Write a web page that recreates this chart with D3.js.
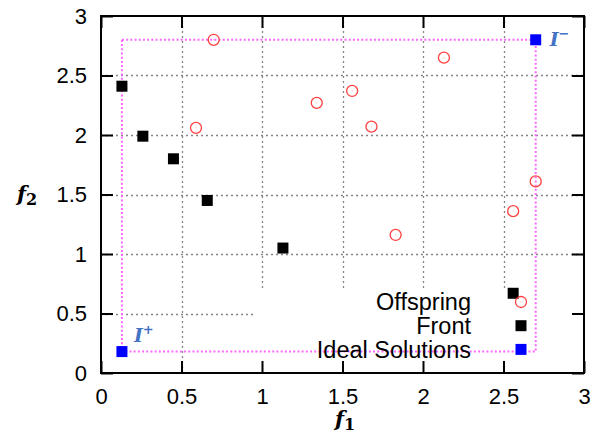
<!DOCTYPE html>
<html>
<head>
<meta charset="utf-8">
<script src="https://cdn.jsdelivr.net/npm/d3@7/dist/d3.min.js"></script>
<style>
  html, body { margin: 0; padding: 0; background: #fff; }
  svg { display: block; }
  .tick text { font-family: "Liberation Sans", Arial, sans-serif; font-size: 22px; fill: #000; }
</style>
</head>
<body>
<svg id="chart" width="594" height="436"></svg>
<script>
// Objective-space snapshot: offspring, current front and the two ideal points
const offspringF1 = [0.70, 0.59, 1.34, 1.56, 1.68, 2.13, 1.83, 2.70, 2.56];
const offspringF2 = [2.80, 2.06, 2.27, 2.37, 2.07, 2.65, 1.16, 1.61, 1.36];
const frontF1 = [0.13, 0.26, 0.45, 0.66, 1.13, 2.56];
const frontF2 = [2.41, 1.99, 1.80, 1.45, 1.05, 0.67];
const idealNames = ["I+", "I−"];
const idealF1 = [0.13, 2.70];
const idealF2 = [0.18, 2.80];
const tickValues = [0, 0.5, 1, 1.5, 2, 2.5, 3];
const tickLabels = ["0", "0.5", "1", "1.5", "2", "2.5", "3"];
const legendLabels = ["Offspring", "Front", "Ideal Solutions"];

const svg = d3.select("#chart");
const pLeft = 101, pRight = 584, pTop = 16, pBottom = 373;

const x = d3.scaleLinear().domain([0, 3]).range([pLeft, pRight]);
const y = d3.scaleLinear().domain([0, 3]).range([pBottom, pTop]);
const fmt = d => tickLabels[tickValues.indexOf(d)];

// dotted grid
const gridVals = tickValues.slice(1, -1);
const grid = svg.append("g").attr("class", "grid");
grid.selectAll("line.gx").data(gridVals).join("line").attr("class", "gx")
  .attr("x1", d => Math.round(x(d)) + 0.5).attr("x2", d => Math.round(x(d)) + 0.5)
  .attr("y1", pTop).attr("y2", pBottom);
grid.selectAll("line.gy").data(gridVals).join("line").attr("class", "gy")
  .attr("y1", d => Math.round(y(d)) + 0.5).attr("y2", d => Math.round(y(d)) + 0.5)
  .attr("x1", pLeft).attr("x2", pRight);
grid.selectAll("line")
  .style("stroke", "#858585").style("stroke-width", "1.3px").style("stroke-dasharray", "2 3");

// opaque key background
svg.append("rect").attr("x", 254).attr("y", 289).attr("width", pRight - 254).attr("height", pBottom - 289)
  .attr("fill", "#fff");

// axes (ticks point inward)
function styleAxis(g) {
  g.select(".domain").remove();
  g.selectAll(".tick line").attr("stroke", "#000").attr("stroke-width", 2);
}
svg.append("g").attr("transform", `translate(0,${pBottom})`)
  .call(d3.axisBottom(x).tickValues(tickValues).tickFormat(fmt).tickSize(-12).tickPadding(15))
  .call(styleAxis).attr("font-family", null).attr("font-size", null);
svg.append("g").attr("transform", `translate(${pLeft},0)`)
  .call(d3.axisLeft(y).tickValues(tickValues).tickFormat(fmt).tickSize(-12).tickPadding(14))
  .call(styleAxis).attr("font-family", null).attr("font-size", null);
svg.append("g").attr("transform", `translate(0,${pTop})`)
  .call(d3.axisTop(x).tickValues(tickValues).tickFormat("").tickSize(-12))
  .call(styleAxis);
svg.append("g").attr("transform", `translate(${pRight},0)`)
  .call(d3.axisRight(y).tickValues(tickValues).tickFormat("").tickSize(-12))
  .call(styleAxis);

svg.append("rect").attr("x", pLeft).attr("y", pTop).attr("width", pRight - pLeft).attr("height", pBottom - pTop)
  .attr("fill", "none").attr("stroke", "#000").attr("stroke-width", 2);

// box spanned by the two ideal points
svg.append("rect")
  .attr("x", x(idealF1[0])).attr("y", y(idealF2[1]))
  .attr("width", x(idealF1[1]) - x(idealF1[0])).attr("height", y(idealF2[0]) - y(idealF2[1]))
  .attr("fill", "none").attr("stroke", "#ff66ff").attr("stroke-width", 2)
  .attr("stroke-dasharray", "2,2.2");

const sq = 11;
function circle(g, cx, cy) {
  g.append("circle").attr("cx", cx).attr("cy", cy).attr("r", 5.5)
    .attr("fill", "none").attr("stroke", "#ff4040").attr("stroke-width", 1.3);
  g.append("circle").attr("cx", cx).attr("cy", cy).attr("r", 0.5).attr("fill", "#ff9090");
}
function square(g, cx, cy, color) {
  g.append("rect").attr("x", cx - sq / 2).attr("y", cy - sq / 2).attr("width", sq).attr("height", sq)
    .attr("fill", color);
}

const marks = svg.append("g");
offspringF1.forEach((v, i) => circle(marks, x(v), y(offspringF2[i])));
frontF1.forEach((v, i) => square(marks, x(v), y(frontF2[i]), "#000"));
idealF1.forEach((v, i) => square(marks, x(v), y(idealF2[i]), "#0000ff"));

// ideal point labels
const lab = svg.append("g").attr("fill", "#4472c4").attr("font-family", "'DejaVu Serif', serif")
  .attr("font-weight", "bold").attr("font-style", "italic");
function idealLabel(tx, ty, sup) {
  const t = lab.append("text").attr("x", tx).attr("y", ty).attr("font-size", 19);
  t.append("tspan").text("I");
  t.append("tspan").attr("dy", -8).attr("font-size", 13).attr("font-style", "normal").text(sup);
}
idealLabel(x(idealF1[0]) + 12, y(idealF2[0]) - 10, "+");
idealLabel(x(idealF1[1]) + 14, y(idealF2[1]) + 6, "−");

// key
const key = svg.append("g");
const keyTextX = 471, keySampleX = 521, keyY0 = 302, keyStep = 23.7;
legendLabels.forEach((t, i) => {
  key.append("text").attr("x", keyTextX).attr("y", keyY0 + i * keyStep).attr("dy", "0.35em")
    .attr("text-anchor", "end").attr("font-family", "'Liberation Sans', Arial, sans-serif")
    .attr("font-size", 23.5).text(t);
});
circle(key, keySampleX, keyY0);
square(key, keySampleX, keyY0 + keyStep, "#000");
square(key, keySampleX, keyY0 + 2 * keyStep, "#0000ff");

// axis titles
const titleFont = "'DejaVu Serif', serif";
function axisTitle(tx, ty, sub) {
  const t = svg.append("text").attr("x", tx).attr("y", ty).attr("text-anchor", "middle")
    .attr("font-family", titleFont).attr("font-weight", "bold").attr("font-style", "italic")
    .attr("font-size", 21);
  t.append("tspan").text("f");
  t.append("tspan").attr("dy", 4).attr("font-size", 16).attr("font-style", "normal").text(sub);
}
axisTitle(345, 426, "1");
axisTitle(27, 201, "2");
</script>
</body>
</html>
